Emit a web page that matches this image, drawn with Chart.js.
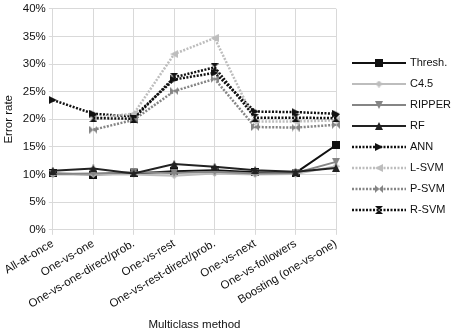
<!DOCTYPE html>
<html>
<head>
<meta charset="utf-8">
<title>Multiclass error rate</title>
<script src="https://cdn.jsdelivr.net/npm/chart.js"></script>
<style>
  html, body { margin: 0; padding: 0; background: #fff; }
  #wrap { width: 454px; height: 335px; }
</style>
</head>
<body>
<div id="wrap"><canvas id="chart" width="454" height="335"></canvas></div>
<script>
// Categories (x axis)
const methods = [
  'All-at-once',
  'One-vs-one',
  'One-vs-one-direct/prob.',
  'One-vs-rest',
  'One-vs-rest-direct/prob.',
  'One-vs-next',
  'One-vs-followers',
  'Boosting (one-vs-one)'
];

// Error rate (%) per classifier
const thresh = [10.2, 10.0, 10.2, 10.6, 10.8, 10.4, 10.3, 15.3];
const c45    = [10.0, 10.0, 10.0, 9.8, 10.2, 10.0, 10.1, 11.5];
const ripper = [10.1, 10.2, 10.4, 10.3, 10.5, 10.2, 10.3, 12.3];
const rf     = [10.7, 11.1, 10.2, 11.9, 11.4, 10.8, 10.5, 11.2];
const ann    = [23.5, 21.0, 20.5, 27.2, 28.4, 21.4, 21.3, 21.0];
const lsvm   = [null, 20.3, 21.0, 31.8, 34.7, 19.6, 19.6, 19.8];
const psvm   = [null, 18.1, 19.9, 25.1, 27.3, 18.6, 18.5, 19.0];
const rsvm   = [null, 20.2, 20.1, 27.6, 29.4, 20.3, 20.3, 20.2];

// y axis ticks
const yTicks = [0, 5, 10, 15, 20, 25, 30, 35, 40];

const FONT = 'Liberation Sans, Arial, Helvetica, sans-serif';
const BLACK = '#111111';
const LIGHT = '#bdbdbd';
const MID = '#858585';

// marker images, drawn on small canvases
function makeMarker(shape, color, size) {
  const c = document.createElement('canvas');
  c.width = size;
  c.height = size;
  const g = c.getContext('2d');
  const s = size, h = size / 2;
  g.fillStyle = color;
  g.beginPath();
  if (shape === 'square') {
    g.rect(0, 0, s, s);
  } else if (shape === 'diamond') {
    g.moveTo(h, 0); g.lineTo(s, h); g.lineTo(h, s); g.lineTo(0, h);
  } else if (shape === 'up') {
    g.moveTo(h, 0); g.lineTo(s, s); g.lineTo(0, s);
  } else if (shape === 'down') {
    g.moveTo(0, 0); g.lineTo(s, 0); g.lineTo(h, s);
  } else if (shape === 'right') {
    g.moveTo(0, 0); g.lineTo(s, h); g.lineTo(0, s);
  } else if (shape === 'left') {
    g.moveTo(s, 0); g.lineTo(0, h); g.lineTo(s, s);
  } else if (shape === 'bowtie') {
    g.moveTo(0, 0); g.lineTo(h, h); g.lineTo(0, s); g.closePath();
    g.moveTo(s, 0); g.lineTo(h, h); g.lineTo(s, s);
  } else if (shape === 'hourglass') {
    g.moveTo(0, 0); g.lineTo(s, 0); g.lineTo(h, h); g.closePath();
    g.moveTo(0, s); g.lineTo(s, s); g.lineTo(h, h);
  }
  g.closePath();
  g.fill();
  return c;
}

// legend icon: a short line with the marker in the middle
function makeLegendIcon(marker, color, dash) {
  const c = document.createElement('canvas');
  c.width = 54;
  c.height = 12;
  const g = c.getContext('2d');
  g.strokeStyle = color;
  g.lineWidth = dash ? 2.5 : 2;
  g.setLineDash(dash || []);
  g.beginPath();
  g.moveTo(0, 6);
  g.lineTo(54, 6);
  g.stroke();
  g.drawImage(marker, 27 - marker.width / 2, 6 - marker.height / 2);
  return c;
}

const DOTS = [2, 1.5];

const series = [
  { label: 'Thresh.', data: thresh, color: BLACK, shape: 'square', size: 8, dash: null },
  { label: 'C4.5', data: c45, color: LIGHT, shape: 'diamond', size: 7, dash: null },
  { label: 'RIPPER', data: ripper, color: MID, shape: 'down', size: 8, dash: null },
  { label: 'RF', data: rf, color: '#222222', shape: 'up', size: 8, dash: null },
  { label: 'ANN', data: ann, color: BLACK, shape: 'right', size: 8, dash: DOTS },
  { label: 'L-SVM', data: lsvm, color: LIGHT, shape: 'left', size: 8, dash: DOTS },
  { label: 'P-SVM', data: psvm, color: MID, shape: 'bowtie', size: 8, dash: DOTS },
  { label: 'R-SVM', data: rsvm, color: BLACK, shape: 'hourglass', size: 8, dash: DOTS }
];

const datasets = series.map((s, i) => {
  const marker = makeMarker(s.shape, s.color, s.size);
  return {
    label: s.label,
    data: s.data,
    borderColor: s.color,
    backgroundColor: s.color,
    borderWidth: s.dash ? 2.5 : 2,
    borderDash: s.dash || [],
    pointStyle: marker,
    legendIcon: makeLegendIcon(marker, s.color, s.dash),
    tension: 0,
    fill: false,
    // first series drawn on top
    order: series.length - i
  };
});

// legend drawn by hand: line + marker, then the name
const lineLegend = {
  id: 'lineLegend',
  afterDraw(chart) {
    const ctx = chart.ctx;
    ctx.save();
    ctx.font = '11px ' + FONT;
    ctx.fillStyle = '#111';
    ctx.textBaseline = 'middle';
    ctx.textAlign = 'left';
    chart.data.datasets.forEach((d, i) => {
      const y = 63 + i * 21;
      ctx.drawImage(d.legendIcon, 352, y - 6);
      ctx.fillText(d.label, 410, y);
    });
    ctx.restore();
  }
};

new Chart(document.getElementById('chart'), {
  type: 'line',
  data: { labels: methods, datasets: datasets },
  plugins: [lineLegend],
  options: {
    responsive: false,
    animation: false,
    devicePixelRatio: 1,
    layout: { padding: { left: 2, right: 118, top: 0, bottom: 3 } },
    plugins: {
      tooltip: { enabled: false },
      legend: { display: false }
    },
    scales: {
      x: {
        offset: false,
        grid: { color: '#d9d9d9', tickLength: 5, drawTicks: true },
        border: { color: '#d9d9d9' },
        ticks: {
          autoSkip: false,
          minRotation: 31,
          maxRotation: 31,
          padding: 2,
          color: '#111',
          font: { family: FONT, size: 11.5 }
        },
        title: {
          display: true,
          text: 'Multiclass method',
          color: '#111',
          font: { family: FONT, size: 11.5 },
          padding: { top: 5, bottom: 0 }
        }
      },
      y: {
        min: 0,
        max: 40,
        afterBuildTicks(scale) { scale.ticks = yTicks.map((v) => ({ value: v })); },
        grid: { color: '#d9d9d9', tickLength: 4 },
        border: { color: '#d9d9d9' },
        ticks: {
          padding: 3,
          color: '#111',
          font: { family: FONT, size: 11.5, lineHeight: 1 },
          callback: (v) => v + '%'
        },
        title: {
          display: true,
          text: 'Error rate',
          color: '#111',
          font: { family: FONT, size: 11.5 },
          padding: { top: 0, bottom: 4 }
        }
      }
    }
  }
});
</script>
</body>
</html>
